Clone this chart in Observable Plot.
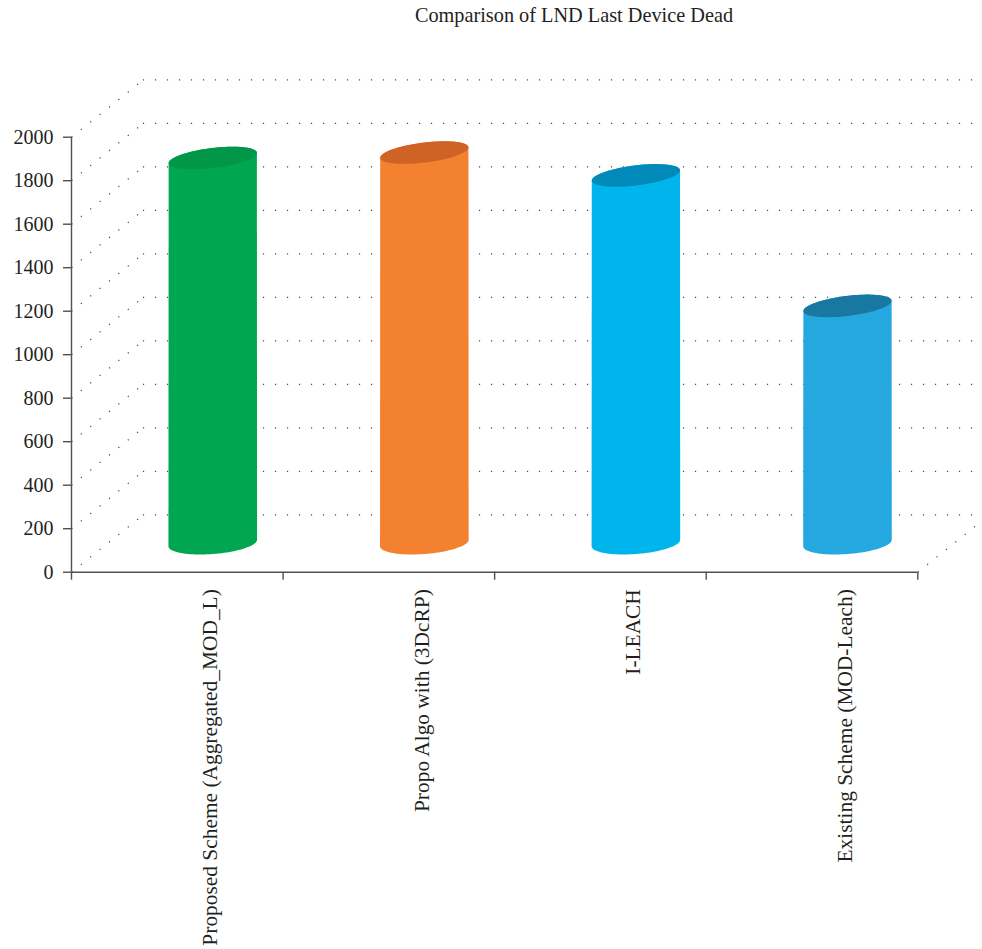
<!DOCTYPE html>
<html>
<head>
<meta charset="utf-8">
<script src="https://cdn.jsdelivr.net/npm/d3@7"></script>
<script src="https://cdn.jsdelivr.net/npm/@observablehq/plot@0.6"></script>
<style>
  body { margin: 0; background: #fff; }
  #wrap { position: relative; width: 982px; height: 949px; }
  #title {
    position: absolute; top: 5px; left: 574px; transform: translateX(-50%);
    white-space: nowrap; font: 20.3px/20px "Liberation Serif", serif; color: #231f20;
  }
</style>
</head>
<body>
<div id="wrap"><div id="title">Comparison of LND Last Device Dead</div></div>
<script>
// Schemes compared and their last-device-dead round
const categories = [
  "Proposed Scheme (Aggregated_MOD_L)",
  "Propo Algo with (3DcRP)",
  "I-LEACH",
  "Existing Scheme (MOD-Leach)"
];
const lndValues = [1770, 1795, 1690, 1090];
const bodyColors = ["#00a651", "#f4812f", "#00b5eb", "#25a8e0"];
const capColors = ["#009748", "#cf6326", "#0089b9", "#1978a2"];
const yTicks = [0, 200, 400, 600, 800, 1000, 1200, 1400, 1600, 1800, 2000];
const xTicks = [0, 1, 2, 3, 4];

// Pseudo-3D depth of the plot box, in data units (x: category slots, y: value)
const DEPTH_X = 0.34;
const DEPTH_Y = 264;
const BAR_W = 0.42;

const dotted = { stroke: "#4a4a4a", strokeWidth: 1.2, strokeDasharray: "1.2,10.8" };

// Rotated ellipse helper (angle in degrees, screen coordinates)
function ellipse(cx, cy, a, b, deg) {
  const p = deg * Math.PI / 180, c = Math.cos(p), s = Math.sin(p);
  const pt = (t) => [cx + a * Math.cos(t) * c - b * Math.sin(t) * s,
                     cy + a * Math.cos(t) * s + b * Math.sin(t) * c];
  const tR = Math.atan2(-b * s, a * c);
  return { pt, tR };
}
function arc(e, t0, t1, n = 48) {
  const out = [];
  for (let k = 0; k <= n; ++k) out.push(e.pt(t0 + (t1 - t0) * k / n));
  return out;
}

// Cylinders drawn through the plot's x and y scales
function cylinders(index, scales) {
  const { x, y } = scales;
  const g = d3.create("svg:g");
  lndValues.forEach((v, i) => {
    const cx = x(i + 0.5 + DEPTH_X / 2);
    const a = (x(BAR_W) - x(0)) / 2;
    const yb = y(DEPTH_Y / 2), yt = y(v + DEPTH_Y / 2);
    const top = ellipse(cx, yt, a, 10, -7);
    const bot = ellipse(cx, yb, a, 11, -4.5);
    const body = [
      top.pt(top.tR + Math.PI),
      ...arc(bot, bot.tR + Math.PI, bot.tR),
      ...arc(top, top.tR + 2 * Math.PI, top.tR + Math.PI)
    ];
    g.append("path")
      .attr("d", "M" + body.map(p => p.join(",")).join("L") + "Z")
      .attr("fill", bodyColors[i]);
    const cap = arc(top, 0, 2 * Math.PI, 96);
    g.append("path")
      .attr("d", "M" + cap.map(p => p.join(",")).join("L") + "Z")
      .attr("fill", capColors[i]);
  });
  return g.node();
}

const chart = Plot.plot({
  width: 982,
  height: 949,
  marginLeft: 71,
  marginRight: 64.7,
  marginTop: 136.7,
  marginBottom: 377.3,
  style: { fontFamily: '"Liberation Serif", serif', fontSize: "20px", color: "#231f20", background: "transparent" },
  x: { domain: [0, 4] },
  y: { domain: [0, 2000] },
  marks: [
    // back wall gridlines
    Plot.ruleY(yTicks, { y: d => d + DEPTH_Y, x1: DEPTH_X, x2: 4 + DEPTH_X, ...dotted }),
    // side wall diagonals
    Plot.link(yTicks, { x1: 0, y1: d => d, x2: DEPTH_X, y2: d => d + DEPTH_Y, ...dotted }),
    // floor right edge
    Plot.link([0], { x1: 4, y1: 0, x2: 4 + DEPTH_X, y2: DEPTH_Y, ...dotted }),
    // axes
    Plot.ruleX([0], { y1: 0, y2: 2000, stroke: "#505050", strokeWidth: 1.4 }),
    Plot.ruleY([0], { stroke: "#505050", strokeWidth: 1.4 }),
    Plot.axisY({ ticks: yTicks, tickSize: 8, tickPadding: 10, tickFormat: d => String(d), label: null, color: "#231f20", stroke: "#505050", strokeWidth: 1.4 }),
    Plot.axisX({ ticks: xTicks, tickSize: 8, tickFormat: () => "", label: null, stroke: "#505050", strokeWidth: 1.4 }),
    // category labels
    Plot.text(categories, {
      x: (d, i) => i + 0.5 + DEPTH_X / 2,
      frameAnchor: "bottom",
      rotate: -90,
      textAnchor: "end",
      dx: 4,
      dy: 17,
      fontSize: 21.4,
      fill: "#231f20"
    }),
    cylinders
  ]
});
document.getElementById("wrap").prepend(chart);
</script>
</body>
</html>
